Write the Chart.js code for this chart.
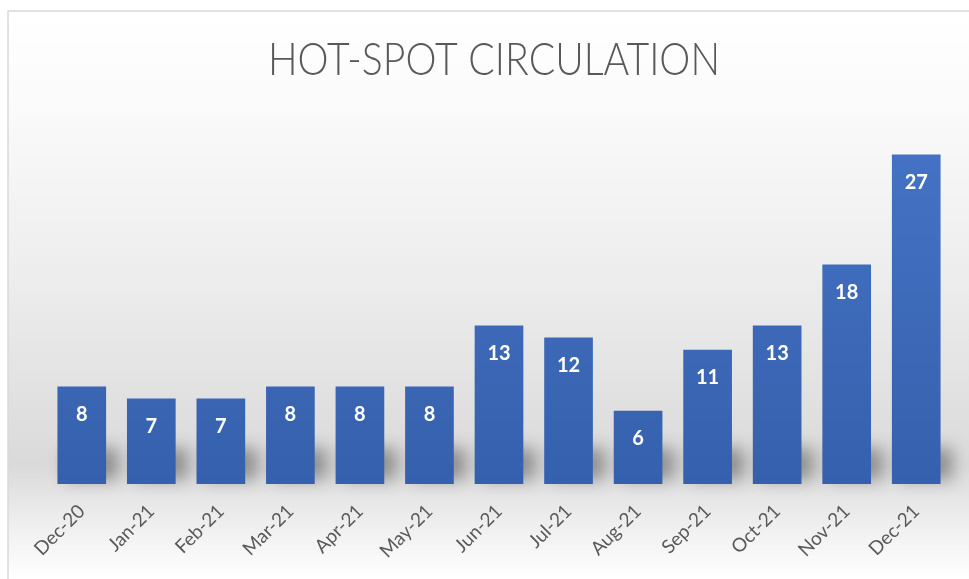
<!DOCTYPE html>
<html>
<head>
<meta charset="utf-8">
<script src="https://cdn.jsdelivr.net/npm/chart.js@4.4.1/dist/chart.umd.min.js"></script>
<style>
  html, body { margin: 0; padding: 0; background: #ffffff; }
  #wrap { position: relative; width: 969px; height: 579px; }
  canvas { display: block; }
</style>
</head>
<body>
<div id="wrap"><canvas id="c" width="969" height="579"></canvas></div>
<script>
const chartTitle = "HOT-SPOT CIRCULATION";
const months = ["Dec-20","Jan-21","Feb-21","Mar-21","Apr-21","May-21","Jun-21","Jul-21","Aug-21","Sep-21","Oct-21","Nov-21","Dec-21"];
const circulation = [8, 7, 7, 8, 8, 8, 13, 12, 6, 11, 13, 18, 27];

const bgPlugin = {
  id: 'bg',
  beforeDraw(chart) {
    const ctx = chart.ctx;
    const W = chart.width, H = chart.height;
    ctx.save();
    ctx.fillStyle = '#ffffff';
    ctx.fillRect(0, 0, W, H);
    const g = ctx.createLinearGradient(0, 11, 0, H);
    g.addColorStop(0, '#ffffff');
    g.addColorStop(0.15, '#fbfbfb');
    g.addColorStop(0.45, '#eeeeee');
    g.addColorStop(0.80, '#dadada');
    g.addColorStop(0.90, '#eeeeee');
    g.addColorStop(1, '#ffffff');
    ctx.fillStyle = g;
    ctx.fillRect(8, 11, W - 8, H - 11);
    ctx.strokeStyle = '#d9d9d9';
    ctx.lineWidth = 1.5;
    ctx.beginPath();
    ctx.moveTo(8, H);
    ctx.lineTo(8, 11);
    ctx.lineTo(W, 11);
    ctx.stroke();
    ctx.restore();
  }
};

const titlePlugin = {
  id: 'condensedTitle',
  afterDraw(chart) {
    const ctx = chart.ctx;
    ctx.save();
    ctx.font = '300 45px Lato, "Open Sans", sans-serif';
    ctx.fillStyle = '#595959';
    ctx.textAlign = 'center';
    ctx.textBaseline = 'alphabetic';
    const w = ctx.measureText(chartTitle).width;
    const target = 452;
    ctx.translate(494, 75);
    ctx.scale(target / w, 1);
    ctx.fillText(chartTitle, 0, 0);
    ctx.restore();
  }
};

const shadowPlugin = {
  id: 'barShadow',
  beforeDatasetsDraw(chart) {
    const ctx = chart.ctx;
    const meta = chart.getDatasetMeta(0);
    ctx.save();
    ctx.filter = 'blur(8px)';
    ctx.fillStyle = 'rgba(70,70,70,0.5)';
    meta.data.forEach(bar => {
      const w = bar.width;
      const base = bar.base;
      ctx.fillRect(bar.x - w / 2 + 8, base - 36, w + 4, 32);
    });
    ctx.restore();
  }
};

const labelPlugin = {
  id: 'valueLabels',
  afterDatasetsDraw(chart) {
    const ctx = chart.ctx;
    const meta = chart.getDatasetMeta(0);
    const data = chart.data.datasets[0].data;
    ctx.save();
    ctx.fillStyle = '#ffffff';
    ctx.font = 'bold 20px Lato, "Open Sans", sans-serif';
    ctx.textAlign = 'center';
    ctx.textBaseline = 'middle';
    meta.data.forEach((bar, i) => {
      ctx.fillText(String(data[i]), bar.x, bar.y + 28);
    });
    ctx.restore();
  }
};

const ctx = document.getElementById('c').getContext('2d');
new Chart(ctx, {
  type: 'bar',
  data: {
    labels: months,
    datasets: [{
      data: circulation,
      backgroundColor: (c) => {
        const area = c.chart.chartArea;
        if (!area) return '#4472c4';
        const g = c.chart.ctx.createLinearGradient(0, area.top, 0, area.bottom);
        g.addColorStop(0, '#4674c6');
        g.addColorStop(1, '#3560ad');
        return g;
      },
      borderWidth: 0,
      categoryPercentage: 1.0,
      barPercentage: 0.70
    }]
  },
  options: {
    responsive: false,
    animation: false,
    devicePixelRatio: 1,
    layout: { padding: { top: 118, left: 47, right: 18, bottom: 0 } },
    plugins: {
      legend: { display: false },
      tooltip: { enabled: false },
      title: { display: false }
    },
    scales: {
      x: {
        grid: { display: false },
        border: { display: false },
        ticks: {
          color: '#595959',
          font: { family: 'Lato, "Open Sans", sans-serif', size: 19 },
          maxRotation: 45,
          minRotation: 45,
          autoSkip: false,
          padding: 8
        },
        afterFit(scale) {
          scale.height = 95;
          scale.paddingLeft = 0;
          scale.paddingRight = 0;
        }
      },
      y: {
        display: false,
        min: 0,
        max: 30
      }
    }
  },
  plugins: [bgPlugin, shadowPlugin, labelPlugin, titlePlugin]
});
</script>
</body>
</html>
